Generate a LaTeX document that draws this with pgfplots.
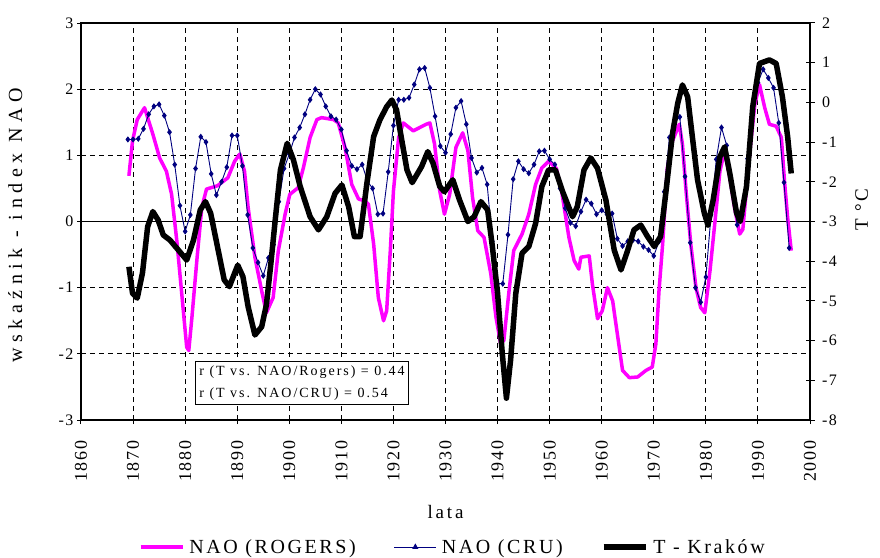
\documentclass[border=0pt]{standalone}
\usepackage{fontspec}
\setmainfont{Liberation Serif}
\newfontfamily\spfont[LetterSpace=10]{Liberation Serif}
\newfontfamily\boxfont[LetterSpace=14]{Liberation Serif}
\newfontfamily\legfont[LetterSpace=13]{Liberation Serif}
\newfontfamily\labfont[LetterSpace=15]{Liberation Serif}
\newfontfamily\ylabfont[LetterSpace=28]{Liberation Serif}
\usepackage{pgfplots}
\pgfplotsset{compat=1.18}
\definecolor{crublue}{RGB}{0,0,128}
\definecolor{rogers}{RGB}{255,0,255}

\pgfplotstableread{
year v
1869.2 0.69
1869.9 1.22
1870.8 1.54
1872.2 1.72
1873.8 1.32
1875.1 0.96
1876.4 0.76
1877.4 0.41
1878.4 -0.29
1879.3 -1.05
1880.3 -1.90
1880.7 -1.95
1881.3 -1.45
1882.3 -0.54
1883.2 0.21
1884.1 0.49
1886.2 0.54
1888.2 0.66
1889.5 0.91
1890.5 1.02
1891.4 0.76
1892.1 0.21
1893.4 -0.54
1894.7 -1.05
1895.6 -1.38
1896.9 -1.15
1897.9 -0.44
1899.2 0.11
1900.1 0.41
1901.7 0.51
1902.7 0.81
1904.0 1.27
1905.3 1.54
1906.2 1.57
1908.5 1.54
1909.4 1.49
1910.7 1.12
1912.0 0.56
1913.3 0.34
1914.6 0.31
1915.2 0.26
1916.2 -0.34
1917.1 -1.15
1918.1 -1.50
1918.7 -1.35
1919.4 -0.44
1920.0 0.46
1921.0 1.27
1921.9 1.49
1923.8 1.37
1926.3 1.47
1927.0 1.49
1927.9 1.17
1928.9 0.46
1929.8 0.11
1930.8 0.41
1932.0 1.12
1933.3 1.34
1934.3 1.07
1935.2 0.36
1936.2 -0.14
1937.4 -0.24
1938.7 -0.79
1939.7 -1.45
1940.6 -1.85
1941.2 -1.80
1942.2 -1.05
1943.1 -0.44
1944.7 -0.19
1946.0 0.11
1947.3 0.56
1948.5 0.81
1949.8 0.91
1951.3 0.80
1952.3 0.46
1952.8 0.21
1953.7 -0.24
1954.7 -0.59
1955.6 -0.72
1956.0 -0.54
1957.6 -0.52
1958.2 -0.94
1959.2 -1.47
1960.1 -1.35
1961.1 -1.00
1962.1 -1.20
1963.0 -1.70
1964.0 -2.25
1965.3 -2.36
1966.9 -2.35
1968.5 -2.25
1969.7 -2.20
1970.4 -1.85
1971.0 -1.05
1971.7 -0.34
1972.6 0.81
1973.6 1.22
1974.9 1.47
1975.5 1.17
1976.2 0.46
1977.1 -0.34
1978.1 -1.00
1979.0 -1.30
1979.8 -1.38
1980.8 -0.74
1981.7 -0.04
1982.7 0.76
1983.6 1.07
1984.6 0.66
1985.5 0.21
1986.5 -0.19
1987.1 -0.12
1988.4 1.02
1989.4 1.77
1990.3 2.07
1991.3 1.72
1992.2 1.47
1993.5 1.44
1994.5 1.27
1995.1 0.61
1995.7 0.06
1996.4 -0.44
}\rogers

\pgfplotstableread{
year v
1869 1.24
1870 1.24
1871 1.25
1872 1.40
1873 1.62
1874 1.74
1875 1.77
1876 1.60
1877 1.35
1878 0.86
1879 0.24
1880 -0.15
1881 0.10
1882 0.80
1883 1.28
1884 1.20
1885 0.72
1886 0.40
1887 0.60
1888 0.82
1889 1.30
1890 1.30
1891 0.84
1892 0.10
1893 -0.40
1894 -0.62
1895 -0.82
1896 -0.55
1897 -0.35
1898 0.30
1899 0.80
1900 1.02
1901 1.27
1902 1.42
1903 1.62
1904 1.84
1905 2.00
1906 1.92
1907 1.74
1908 1.59
1909 1.54
1910 1.39
1911 1.07
1912 0.84
1913 0.79
1914 0.86
1915 0.61
1916 0.50
1917 0.11
1918 0.12
1919 0.75
1920 1.45
1921 1.84
1922 1.84
1923 1.87
1924 2.07
1925 2.30
1926 2.32
1927 2.02
1928 1.59
1929 1.14
1930 1.04
1931 1.32
1932 1.72
1933 1.82
1934 1.47
1935 0.96
1936 0.74
1937 0.81
1938 0.56
1939 -0.30
1940 -0.94
1941 -0.94
1942 -0.20
1943 0.64
1944 0.91
1945 0.79
1946 0.73
1947 0.86
1948 1.06
1949 1.07
1950 0.94
1951 0.86
1952 0.50
1953 0.20
1954 -0.02
1955 -0.07
1956 0.15
1957 0.33
1958 0.27
1959 0.11
1960 0.17
1961 0.11
1962 0.12
1963 -0.26
1964 -0.37
1965 -0.30
1966 -0.28
1967 -0.30
1968 -0.38
1969 -0.43
1970 -0.52
1971 -0.30
1972 0.45
1973 1.27
1974 1.50
1975 1.58
1976 0.68
1977 -0.32
1978 -1.00
1979 -1.22
1980 -0.84
1981 0.10
1982 0.94
1983 1.42
1984 1.15
1985 0.50
1986 -0.05
1987 0.10
1988 0.95
1989 1.70
1990 2.10
1991 2.30
1992 2.17
1993 2.02
1994 1.49
1995 0.59
1996 -0.40
}\cru

\pgfplotstableread{
year t
1869.2 -4.14
1869.9 -4.81
1870.8 -4.93
1871.8 -4.30
1872.8 -3.13
1873.8 -2.75
1874.8 -2.96
1875.8 -3.34
1877.1 -3.47
1878.7 -3.72
1880.3 -3.97
1881.6 -3.47
1882.9 -2.71
1883.9 -2.50
1884.9 -2.79
1886.2 -3.63
1887.5 -4.47
1888.5 -4.64
1889.5 -4.30
1890.1 -4.10
1891.1 -4.39
1892.1 -5.15
1893.4 -5.86
1894.7 -5.65
1895.6 -5.10
1896.4 -4.14
1897.3 -2.96
1898.3 -1.70
1899.6 -1.03
1900.8 -1.45
1902.1 -2.12
1904.0 -2.88
1905.6 -3.21
1907.2 -2.88
1908.8 -2.29
1910.1 -2.08
1911.4 -2.63
1912.5 -3.38
1913.6 -3.38
1914.9 -2.04
1916.2 -0.86
1917.4 -0.44
1918.7 -0.11
1919.7 0.06
1920.6 -0.19
1921.6 -0.95
1922.6 -1.70
1923.6 -2.02
1925.4 -1.62
1926.6 -1.24
1927.6 -1.53
1928.9 -2.12
1929.8 -2.25
1931.4 -1.95
1932.7 -2.46
1934.3 -3.00
1935.5 -2.88
1936.8 -2.50
1938.1 -2.71
1939.0 -3.63
1940.0 -4.81
1940.9 -6.32
1941.7 -7.45
1942.5 -6.49
1943.5 -4.81
1944.7 -3.80
1946.0 -3.63
1947.3 -3.05
1948.5 -2.12
1949.8 -1.70
1951.1 -1.70
1952.5 -2.25
1954.4 -2.88
1955.3 -2.63
1956.6 -1.70
1957.9 -1.40
1959.2 -1.66
1960.8 -2.46
1962.4 -3.72
1963.7 -4.22
1964.9 -3.76
1966.2 -3.21
1967.5 -3.09
1968.8 -3.38
1970.1 -3.63
1971.3 -3.38
1972.3 -2.29
1973.6 -0.78
1974.6 -0.02
1975.5 0.44
1976.5 0.14
1977.4 -0.86
1978.4 -1.95
1979.7 -2.79
1980.4 -3.09
1981.4 -2.46
1982.7 -1.37
1983.6 -1.12
1984.6 -1.79
1985.9 -2.79
1986.6 -3.00
1987.8 -2.12
1989.0 -0.11
1990.3 0.98
1992.2 1.07
1993.5 0.98
1994.7 0.14
1995.7 -0.86
1996.4 -1.79
}\krakow

\pgfplotsset{
  common/.style={
    at={(81pt,137pt)}, anchor=south west,
    scale only axis, width=729pt, height=397pt,
    xmin=1860, xmax=2000,
    /pgf/number format/assume math mode=true,
    tick label style={font=\spfont\fontsize{16}{16}\selectfont},
    label style={font=\labfont\fontsize{19}{19}\selectfont},
    axis line style={line width=2.2pt},
    tick style={black, line width=1pt},
  }
}

\begin{document}
\begin{tikzpicture}[x=1pt,y=1pt]
\useasboundingbox (0,0) rectangle (880,557);
\begin{axis}[common,
  ymin=-3, ymax=3, ytick={-3,-2,-1,0,1,2,3},
  xtick={1860,1870,1880,1890,1900,1910,1920,1930,1940,1950,1960,1970,1980,1990,2000},
  xticklabels={1860,1870,1880,1890,1900,1910,1920,1930,1940,1950,1960,1970,1980,1990,2000},
  xtick pos=bottom, ytick pos=left,
  major tick length=4pt, tick align=outside,
  grid=major,
  major grid style={black, line width=1.1pt, dash pattern=on 5pt off 4pt},
  xticklabel style={rotate=90, anchor=east, font=\spfont\fontsize{18}{18}\selectfont},
  xticklabel shift=13pt,
  xlabel={lata},
  xlabel style={at={(axis description cs:0.5,-0.232)}, anchor=center},
  ylabel={wskaźnik - index NAO},
  ylabel style={at={(axis description cs:-0.09,0.49)}, anchor=center, font=\ylabfont\fontsize{20}{20}\selectfont},
  extra y ticks={0}, extra y tick labels={},
  extra y tick style={grid=major, major grid style={solid, black, line width=1.2pt}, major tick length=0pt},
]
\addplot[rogers, line width=3.5pt, line join=round] table[x=year,y=v]{\rogers};
\addplot[crublue, line width=0.9pt, mark=diamond*, mark size=2.4pt, mark options={solid, fill=crublue}] table[x=year,y=v]{\cru};
\node[draw=black, line width=0.8pt, fill=white, anchor=north west, align=left, inner sep=4pt,
      font=\boxfont\fontsize{14}{22}\selectfont] at (axis cs:1881.9,-2.11)
  {r (T vs. NAO/Rogers) = 0.44\\ r (T vs. NAO/CRU) = 0.54};
\end{axis}
\begin{axis}[common,
  ymin=-8, ymax=2, ytick={-8,-7,-6,-5,-4,-3,-2,-1,0,1,2},
  axis x line=none, axis y line*=right,
  tick align=center, major tick length=9pt,
  yticklabel shift=4pt,
  ylabel={T °C},
  ylabel style={at={(axis description cs:1.071,0.53)}, anchor=center},
  legend columns=3,
  legend style={at={(0.51,-0.32)}, anchor=center, draw=none, fill=none,
    font=\legfont\fontsize{20}{20}\selectfont,
    /tikz/every odd column/.style={column sep=3pt},
    /tikz/every even column/.style={column sep=36pt}},
  legend image code/.code={\draw[mark repeat=2,mark phase=2,#1] plot coordinates {(0pt,0pt) (21pt,0pt) (42pt,0pt)};},
]
\addlegendimage{rogers, line width=3.5pt}
\addlegendentry{NAO (ROGERS)}
\addlegendimage{crublue, line width=1pt, mark=triangle*, mark size=2.6pt}
\addlegendentry{NAO (CRU)}
\addplot[black, line width=5.5pt, line join=round] table[x=year,y=t]{\krakow};
\addlegendentry{T - Kraków}
\end{axis}
\end{tikzpicture}
\end{document}
